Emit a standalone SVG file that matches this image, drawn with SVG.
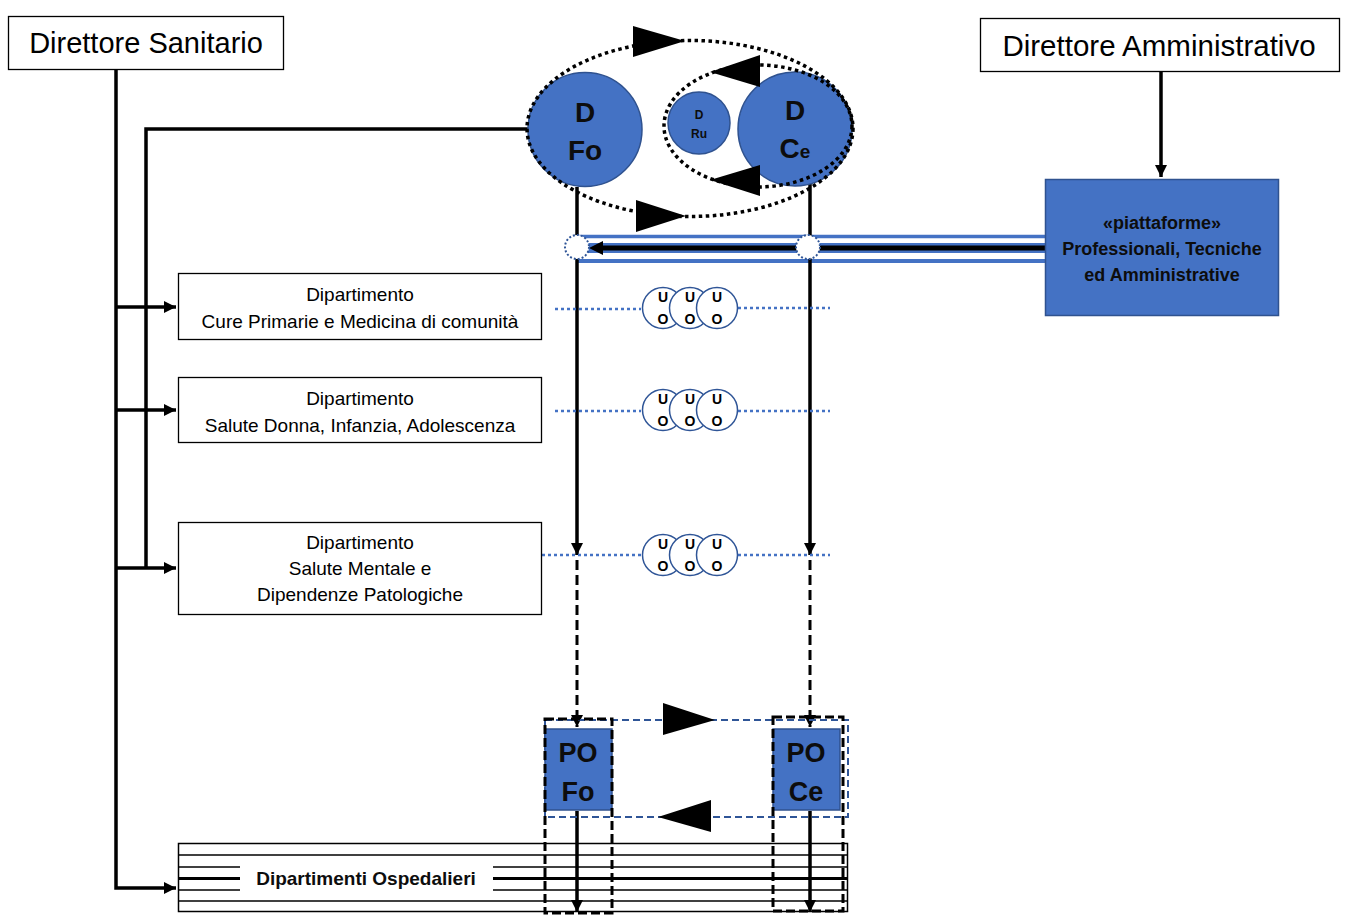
<svg xmlns="http://www.w3.org/2000/svg" width="1350" height="923" viewBox="0 0 1350 923">
<defs>
<style>
.box{fill:#fff;stroke:#000;stroke-width:1.3}
.blue{fill:#4472C4;stroke:#2F528F;stroke-width:1.5}
.t{font-family:"Liberation Sans",Arial,sans-serif;fill:#000;text-anchor:middle}
.b{font-weight:bold;fill:#0d0d0d}
.ln{stroke:#000;stroke-width:3.5;fill:none}
.dash{stroke:#000;stroke-width:3;fill:none;stroke-dasharray:10 5}
.dot{stroke:#000;stroke-width:3.5;fill:none;stroke-dasharray:3.5 3.5}
.bdot{stroke:#4472C4;stroke-width:2.5;fill:none;stroke-dasharray:3 3}
.uo{fill:#fff;stroke:#2F5597;stroke-width:1.5}
.uot{font-family:"Liberation Sans",Arial,sans-serif;font-weight:bold;font-size:14px;text-anchor:middle;fill:#000}
</style>
<marker id="ah" viewBox="0 0 12 12" refX="12" refY="6" markerWidth="12" markerHeight="12" markerUnits="userSpaceOnUse" orient="auto">
<path d="M0,0 L12,6 L0,12 z" fill="#000"/>
</marker>
</defs>
<rect width="1350" height="923" fill="#fff"/>

<g id="connectors">
<!-- Direttore Sanitario tree -->
<path class="ln" d="M116,70 V888 H176" marker-end="url(#ah)"/>
<path class="ln" d="M146,568 V129 H530"/>
<path class="ln" d="M116,307 H176" marker-end="url(#ah)"/>
<path class="ln" d="M116,410 H176" marker-end="url(#ah)"/>
<path class="ln" d="M116,568 H176" marker-end="url(#ah)"/>
<!-- Direttore Amministrativo -->
<path class="ln" d="M1161,71 V177" stroke-width="3" marker-end="url(#ah)"/>
<!-- band -->
<line x1="577" y1="236.5" x2="1045" y2="236.5" stroke="#4472C4" stroke-width="3.5"/>
<line x1="577" y1="261" x2="1045" y2="261" stroke="#4472C4" stroke-width="4"/>
<line x1="577" y1="248" x2="1045" y2="248" stroke="#4472C4" stroke-width="10"/>
<!-- verticals from D Fo / D Ce -->
<path class="ln" d="M577,187 V555" stroke-width="3" marker-end="url(#ah)"/>
<path class="ln" d="M810,168 V555" stroke-width="3" marker-end="url(#ah)"/>
<line x1="1045" y1="248" x2="600" y2="248" stroke="#000" stroke-width="5"/>
<path d="M589,248 L603,241 L603,255 z" fill="#000"/>
<!-- dotted blue department lines -->
<line class="bdot" x1="555" y1="309" x2="641" y2="309"/>
<line class="bdot" x1="738" y1="308" x2="830" y2="308"/>
<line class="bdot" x1="555" y1="411" x2="641" y2="411"/>
<line class="bdot" x1="738" y1="411" x2="830" y2="411"/>
<line class="bdot" x1="542" y1="555" x2="641" y2="555"/>
<line class="bdot" x1="738" y1="555" x2="830" y2="555"/>
<!-- dashed to PO -->
<path class="dash" d="M577,560 V727" marker-end="url(#ah)"/>
<path class="dash" d="M810,560 V727" marker-end="url(#ah)"/>
<!-- PO to Dipartimenti Ospedalieri -->
<path class="ln" d="M577,811 V912" stroke-width="3" marker-end="url(#ah)"/>
<path class="ln" d="M810,811 V912" stroke-width="3" marker-end="url(#ah)"/>
</g>

<g id="direttore-sanitario">
<rect class="box" x="8.5" y="16.5" width="275" height="53"/>
<text class="t" x="146" y="53" font-size="29">Direttore Sanitario</text>
</g>

<g id="direttore-amministrativo">
<rect class="box" x="980.5" y="18.5" width="359" height="53"/>
<text class="t" x="1159" y="56" font-size="29.5">Direttore Amministrativo</text>
</g>

<g id="piattaforme">
<rect class="blue" x="1045.5" y="179.5" width="233" height="136"/>
<text class="t b" font-size="18" x="1162" y="229">«piattaforme»</text>
<text class="t b" font-size="18" x="1162" y="255">Professionali, Tecniche</text>
<text class="t b" font-size="18" x="1162" y="281">ed Amministrative</text>
</g>

<g id="dip-cure-primarie">
<rect class="box" x="178.5" y="273.5" width="363" height="66"/>
<text class="t" font-size="19" x="360" y="301">Dipartimento</text>
<text class="t" font-size="19" x="360" y="328">Cure Primarie e Medicina di comunità</text>
</g>

<g id="dip-salute-donna">
<rect class="box" x="178.5" y="377.5" width="363" height="65"/>
<text class="t" font-size="19" x="360" y="405">Dipartimento</text>
<text class="t" font-size="19" x="360" y="432">Salute Donna, Infanzia, Adolescenza</text>
</g>

<g id="dip-salute-mentale">
<rect class="box" x="178.5" y="522.5" width="363" height="92"/>
<text class="t" font-size="19" x="360" y="549">Dipartimento</text>
<text class="t" font-size="19" x="360" y="575">Salute Mentale e</text>
<text class="t" font-size="19" x="360" y="601">Dipendenze Patologiche</text>
</g>

<g id="uo-row-1">
<circle class="uo" cx="663" cy="308" r="20.5"/>
<circle class="uo" cx="690" cy="308" r="20.5"/>
<circle class="uo" cx="717" cy="308" r="20.5"/>
<text class="uot" x="663" y="302">U</text><text class="uot" x="663" y="324">O</text>
<text class="uot" x="690" y="302">U</text><text class="uot" x="690" y="324">O</text>
<text class="uot" x="717" y="302">U</text><text class="uot" x="717" y="324">O</text>
</g>
<g id="uo-row-2">
<circle class="uo" cx="663" cy="410" r="20.5"/>
<circle class="uo" cx="690" cy="410" r="20.5"/>
<circle class="uo" cx="717" cy="410" r="20.5"/>
<text class="uot" x="663" y="404">U</text><text class="uot" x="663" y="426">O</text>
<text class="uot" x="690" y="404">U</text><text class="uot" x="690" y="426">O</text>
<text class="uot" x="717" y="404">U</text><text class="uot" x="717" y="426">O</text>
</g>
<g id="uo-row-3">
<circle class="uo" cx="663" cy="555" r="20.5"/>
<circle class="uo" cx="690" cy="555" r="20.5"/>
<circle class="uo" cx="717" cy="555" r="20.5"/>
<text class="uot" x="663" y="549">U</text><text class="uot" x="663" y="571">O</text>
<text class="uot" x="690" y="549">U</text><text class="uot" x="690" y="571">O</text>
<text class="uot" x="717" y="549">U</text><text class="uot" x="717" y="571">O</text>
</g>

<g id="d-fo">
<circle class="blue" cx="585" cy="129.5" r="57"/>
<text class="t b" font-size="28" x="585" y="122">D</text>
<text class="t b" font-size="28" x="585" y="160">Fo</text>
</g>
<g id="d-ru">
<circle class="blue" cx="699" cy="123" r="31"/>
<text class="t b" font-size="12" x="699" y="119">D</text>
<text class="t b" font-size="12" x="699" y="138">Ru</text>
</g>
<g id="d-ce">
<circle class="blue" cx="795" cy="129" r="57"/>
<text class="t b" font-size="28" x="795" y="120">D</text>
<text class="t b" font-size="28" x="795" y="158">C<tspan font-size="19">e</tspan></text>
</g>

<g id="cycles">
<ellipse class="dot" cx="690" cy="128.5" rx="163" ry="88"/>
<ellipse class="dot" cx="758" cy="126" rx="94" ry="61"/>
<path d="M633,26 L685,41 L633,57 z" fill="#000"/>
<path d="M636,200 L686,216 L636,232 z" fill="#000"/>
<path d="M760,55 L710,72 L760,87 z" fill="#000"/>
<path d="M760,165 L710,180 L760,196 z" fill="#000"/>
</g>

<g id="band-nodes">
<circle cx="577" cy="247" r="12" fill="#fff" stroke="#2F5597" stroke-width="2" stroke-dasharray="2 2"/>
<circle cx="808" cy="247" r="12" fill="#fff" stroke="#2F5597" stroke-width="2" stroke-dasharray="2 2"/>
</g>

<g id="po-cycle">
<rect x="545" y="720" width="303" height="97" fill="none" stroke="#2F5597" stroke-width="2" stroke-dasharray="7 4"/>
<path d="M663,703 L715,720 L663,735 z" fill="#000"/>
<path d="M711,800 L658,817 L711,832 z" fill="#000"/>
</g>

<g id="po-fo">
<rect class="blue" x="545" y="729" width="67" height="81"/>
<text class="t b" font-size="27" x="578" y="762">PO</text>
<text class="t b" font-size="27" x="578" y="801">Fo</text>
</g>
<g id="po-ce">
<rect class="blue" x="773" y="729" width="67" height="81"/>
<text class="t b" font-size="27" x="806" y="762">PO</text>
<text class="t b" font-size="27" x="806" y="801">Ce</text>
</g>

<g id="dipartimenti-ospedalieri">
<rect x="178.5" y="843.5" width="669" height="68" fill="none" stroke="#000" stroke-width="1.5"/>
<line x1="178" y1="855" x2="848" y2="855" stroke="#000" stroke-width="1.5"/>
<line x1="178" y1="901" x2="848" y2="901" stroke="#000" stroke-width="1.5"/>
<line x1="178" y1="867" x2="240" y2="867" stroke="#000" stroke-width="1.5"/>
<line x1="493" y1="867" x2="848" y2="867" stroke="#000" stroke-width="1.5"/>
<line x1="178" y1="878.5" x2="240" y2="878.5" stroke="#000" stroke-width="3"/>
<line x1="493" y1="878.5" x2="848" y2="878.5" stroke="#000" stroke-width="3"/>
<line x1="178" y1="890" x2="240" y2="890" stroke="#000" stroke-width="1.5"/>
<line x1="493" y1="890" x2="848" y2="890" stroke="#000" stroke-width="1.5"/>
<text class="t b" font-size="19" x="366" y="885">Dipartimenti Ospedalieri</text>
</g>

<g id="po-frames">
<rect x="545" y="719" width="67" height="194" fill="none" stroke="#000" stroke-width="3" stroke-dasharray="9 4"/>
<rect x="773" y="717" width="70" height="194" fill="none" stroke="#000" stroke-width="3" stroke-dasharray="9 4"/>
</g>
</svg>
